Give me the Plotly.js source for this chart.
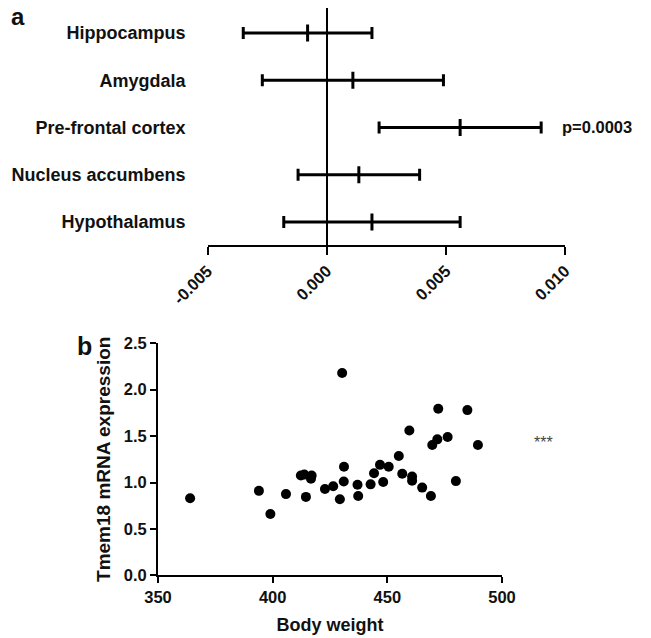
<!DOCTYPE html>
<html>
<head>
<meta charset="utf-8">
<script src="https://cdn.plot.ly/plotly-3.0.1.min.js"></script>
<style>html,body{margin:0;padding:0;background:#fff;}#chart{width:651px;height:638px;}</style>
</head>
<body>
<div id="chart"></div>
<script>
// Panel a: regression estimates with 95% CI per brain region
const regions = ['Hippocampus', 'Amygdala', 'Pre-frontal cortex', 'Nucleus accumbens', 'Hypothalamus'];
const estimate = [-0.0008, 0.0011, 0.0056, 0.00135, 0.0019];
const lowerCI = [-0.0035, -0.0027, 0.0022, -0.0012, -0.0018];
const upperCI = [0.0019, 0.0049, 0.0090, 0.0039, 0.0056];
const pLabel = 'p=0.0003';
const xTicksA = [-0.005, 0.000, 0.005, 0.010];
const xTickTextA = ['-0.005', '0.000', '0.005', '0.010'];

// Panel b: body weight vs Tmem18 expression
const bodyWeight = [364, 394, 399, 405.8, 412.3, 413.8, 417, 416.7, 414.5, 422.8, 426.4, 430.3,
  431.1, 431, 429.3, 437, 437.3, 442.7, 444.2, 446.8, 450.6, 448.2, 455, 456.5, 459.6, 460.8,
  460.8, 465.2, 469, 469.6, 471.8, 472.2, 476.3, 479.9, 484.9, 489.5];
const tmem18 = [0.83, 0.91, 0.66, 0.875, 1.075, 1.085, 1.075, 1.04, 0.845, 0.93, 0.96, 2.18,
  1.17, 1.01, 0.82, 0.975, 0.855, 0.98, 1.10, 1.19, 1.17, 1.005, 1.285, 1.095, 1.56, 1.065,
  1.02, 0.945, 0.855, 1.405, 1.465, 1.795, 1.49, 1.015, 1.78, 1.405];
const sigLabel = '***';
const sigX = 518, sigY = 1.43;

const FONT = 'Liberation Sans, Arial, sans-serif';
const W = 651, H = 638;
const px = v => v / W;
const py = v => (H - v) / H;
const xRangeB = [350, 500];

const traceA = {
  type: 'scatter', mode: 'markers',
  x: estimate, y: regions,
  xaxis: 'x', yaxis: 'y',
  marker: { symbol: 'line-ns', size: 12, color: '#000', line: { color: '#000', width: 3 } },
  error_x: {
    type: 'data', symmetric: false,
    array: upperCI.map((u, i) => u - estimate[i]),
    arrayminus: lowerCI.map((l, i) => estimate[i] - l),
    color: '#000', thickness: 3, width: 6
  },
  hoverinfo: 'skip', showlegend: false
};

const traceB = {
  type: 'scatter', mode: 'markers',
  x: bodyWeight, y: tmem18,
  xaxis: 'x2', yaxis: 'y2',
  marker: { symbol: 'circle', size: 10, color: '#000' },
  hoverinfo: 'skip', showlegend: false
};

const layout = {
  width: W, height: H,
  margin: { l: 0, r: 0, t: 0, b: 0 },
  paper_bgcolor: '#fff', plot_bgcolor: 'rgba(0,0,0,0)',
  font: { family: FONT, color: '#111' },
  xaxis: {
    domain: [px(207.5), px(565)], anchor: 'y',
    range: [-0.005, 0.010], tickvals: xTicksA, ticktext: xTickTextA,
    tickangle: -45, ticks: 'outside', ticklen: 8, tickwidth: 2, tickcolor: '#000',
    showline: true, linewidth: 2, linecolor: '#000', showgrid: false,
    zeroline: true, zerolinecolor: '#000', zerolinewidth: 2,
    tickfont: { family: FONT, size: 16.5, weight: 700, color: '#111' }
  },
  yaxis: {
    domain: [py(245), py(8)], anchor: 'x',
    type: 'category', range: [4.487, -0.529],
    showline: false, showgrid: false, zeroline: false, ticks: '',
    ticklabelstandoff: 21,
    tickfont: { family: FONT, size: 18, weight: 700, color: '#111' }
  },
  xaxis2: {
    domain: [px(158), px(502)], anchor: 'y2',
    range: xRangeB, dtick: 50, tick0: 350,
    ticks: 'outside', ticklen: 6, tickwidth: 2, tickcolor: '#000',
    showline: true, linewidth: 2, linecolor: '#000', showgrid: false, zeroline: false,
    tickfont: { family: FONT, size: 16.5, weight: 700, color: '#111' },
    title: { text: 'Body weight', standoff: 13, font: { family: FONT, size: 18, weight: 700, color: '#111' } }
  },
  yaxis2: {
    domain: [py(575.3), py(343.3)], anchor: 'x2',
    range: [0, 2.5], dtick: 0.5, tick0: 0, tickformat: '.1f',
    ticks: 'outside', ticklen: 6, tickwidth: 2, tickcolor: '#000',
    showline: true, linewidth: 2, linecolor: '#000', showgrid: false, zeroline: false,
    tickfont: { family: FONT, size: 16.5, weight: 700, color: '#111' },
    title: { text: 'Tmem18 mRNA expression', standoff: 8, font: { family: FONT, size: 19, weight: 700, color: '#111' } }
  },
  annotations: [
    { xref: 'paper', yref: 'paper', x: px(9), y: py(16), xanchor: 'left', yanchor: 'middle',
      text: 'a', showarrow: false, font: { family: FONT, size: 24, weight: 700, color: '#111' } },
    { xref: 'paper', yref: 'paper', x: px(75), y: py(346), xanchor: 'left', yanchor: 'middle',
      text: 'b', showarrow: false, font: { family: FONT, size: 25, weight: 700, color: '#111' } },
    { xref: 'x', yref: 'y', x: 0.0093, y: regions[2], xanchor: 'left', yanchor: 'middle', xshift: 12,
      text: pLabel, showarrow: false, font: { family: FONT, size: 16.5, weight: 700, color: '#111' } },
    { xref: 'x2 domain', yref: 'y2', x: (sigX - xRangeB[0]) / (xRangeB[1] - xRangeB[0]), y: sigY,
      xanchor: 'center', yanchor: 'middle',
      text: sigLabel, showarrow: false, font: { family: FONT, size: 16, color: '#444' } }
  ]
};

Plotly.newPlot('chart', [traceA, traceB], layout, { staticPlot: true, displayModeBar: false });
</script>
</body>
</html>
